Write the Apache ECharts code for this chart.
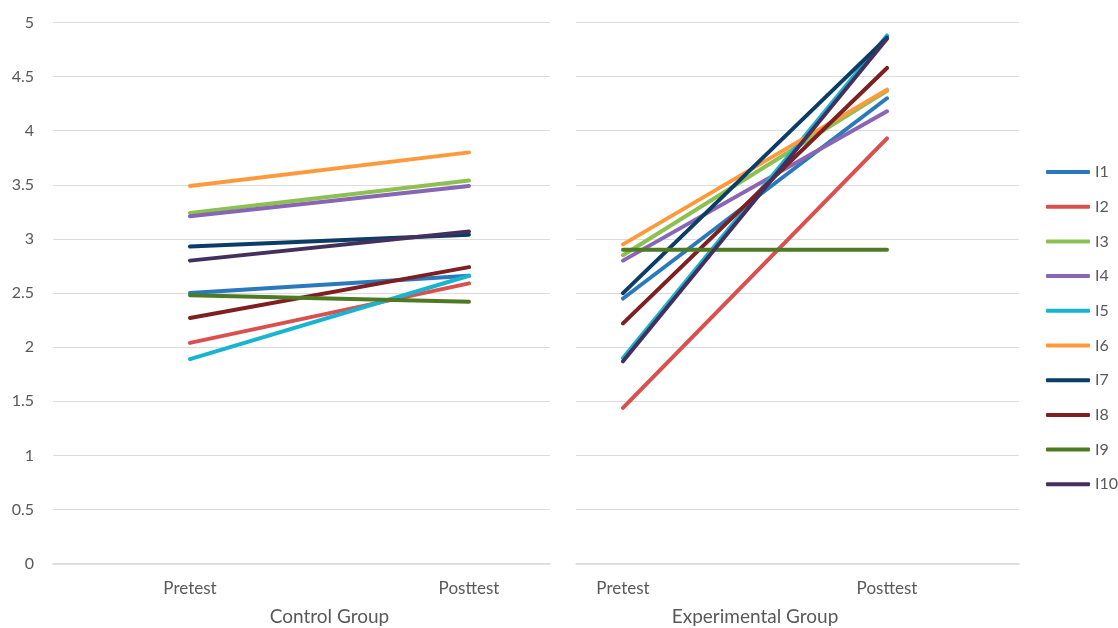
<!DOCTYPE html>
<html>
<head>
<meta charset="utf-8">
<script src="https://cdn.jsdelivr.net/npm/echarts@6/dist/echarts.min.js"></script>
<style>
html,body{margin:0;padding:0;background:#fff;}
#chart{width:1118px;height:628px;}
</style>
</head>
<body>
<div id="chart"></div>
<script>
const categories = ['Pretest', 'Posttest'];
const groups = ['Control Group', 'Experimental Group'];
const itemNames = ['I1','I2','I3','I4','I5','I6','I7','I8','I9','I10'];
const yTicks = [0, 0.5, 1, 1.5, 2, 2.5, 3, 3.5, 4, 4.5, 5];
// Control group [pretest, posttest]
const controlI1 = [2.50, 2.66];
const controlI2 = [2.04, 2.59];
const controlI3 = [3.24, 3.54];
const controlI4 = [3.21, 3.49];
const controlI5 = [1.89, 2.66];
const controlI6 = [3.49, 3.80];
const controlI7 = [2.93, 3.04];
const controlI8 = [2.27, 2.74];
const controlI9 = [2.48, 2.42];
const controlI10 = [2.80, 3.07];
// Experimental group [pretest, posttest]
const expI1 = [2.45, 4.30];
const expI2 = [1.44, 3.93];
const expI3 = [2.85, 4.37];
const expI4 = [2.80, 4.18];
const expI5 = [1.90, 4.88];
const expI6 = [2.95, 4.38];
const expI7 = [2.50, 4.86];
const expI8 = [2.22, 4.58];
const expI9 = [2.90, 2.90];
const expI10 = [1.87, 4.85];

const controlData = [controlI1, controlI2, controlI3, controlI4, controlI5, controlI6, controlI7, controlI8, controlI9, controlI10];
const expData = [expI1, expI2, expI3, expI4, expI5, expI6, expI7, expI8, expI9, expI10];
const colors = ['#2a79bd', '#d9504f', '#8cc152', '#8866b4', '#19b4cf', '#ff9a3c', '#0b3d66', '#7e1f22', '#4e7a24', '#43305e'];

const FONT = 'Lato';
const LABEL = '#595959';
const gTop = 22.5, gBottom = 64.3;

const chart = echarts.init(document.getElementById('chart'));

const grids = [
  {left: 53, right: 1118 - 550, top: gTop, bottom: gBottom, outerBoundsMode: 'none', containLabel: false},
  {left: 576, right: 1118 - 1019, top: gTop, bottom: gBottom, outerBoundsMode: 'none', containLabel: false},
  {left: 190, right: 1118 - 469, top: gTop, bottom: gBottom, outerBoundsMode: 'none', containLabel: false},
  {left: 623, right: 1118 - 887, top: gTop, bottom: gBottom, outerBoundsMode: 'none', containLabel: false}
];

const yBase = {type: 'value', min: 0, max: 5, interval: 0.5,
  axisLine: {show: false}, axisTick: {show: false}};

const yAxes = [
  Object.assign({}, yBase, {gridIndex: 0,
    axisLabel: {color: LABEL, fontFamily: FONT, fontSize: 16, margin: 19,
      formatter: v => yTicks.indexOf(v) >= 0 ? String(v) : ''},
    splitLine: {lineStyle: {color: '#dcdcdc', width: 1}}}),
  Object.assign({}, yBase, {gridIndex: 1, axisLabel: {show: false},
    splitLine: {lineStyle: {color: '#dcdcdc', width: 1}}}),
  Object.assign({}, yBase, {gridIndex: 2, axisLabel: {show: false}, splitLine: {show: false}}),
  Object.assign({}, yBase, {gridIndex: 3, axisLabel: {show: false}, splitLine: {show: false}})
];

const xAxes = [
  {type: 'category', gridIndex: 0, data: categories, axisLabel: {show: false}, axisTick: {show: false},
    axisLine: {lineStyle: {color: '#d9d9d9', width: 1.5}}},
  {type: 'category', gridIndex: 1, data: categories, axisLabel: {show: false}, axisTick: {show: false},
    axisLine: {lineStyle: {color: '#d9d9d9', width: 1.5}}},
  {type: 'category', gridIndex: 2, data: categories, boundaryGap: false, axisTick: {show: false},
    axisLine: {show: false},
    axisLabel: {color: LABEL, fontFamily: FONT, fontSize: 17, margin: 16},
    name: groups[0], nameLocation: 'middle', nameGap: 44,
    nameTextStyle: {color: LABEL, fontFamily: FONT, fontSize: 19}},
  {type: 'category', gridIndex: 3, data: categories, boundaryGap: false, axisTick: {show: false},
    axisLine: {show: false},
    axisLabel: {color: LABEL, fontFamily: FONT, fontSize: 17, margin: 16},
    name: groups[1], nameLocation: 'middle', nameGap: 44,
    nameTextStyle: {color: LABEL, fontFamily: FONT, fontSize: 19}}
];

const series = [];
controlData.forEach((d, i) => series.push({
  name: itemNames[i], type: 'line', xAxisIndex: 2, yAxisIndex: 2, data: d,
  symbol: 'none', color: colors[i], lineStyle: {width: 4, cap: 'round'}, silent: true
}));
expData.forEach((d, i) => series.push({
  name: itemNames[i], type: 'line', xAxisIndex: 3, yAxisIndex: 3, data: d,
  symbol: 'none', color: colors[i], lineStyle: {width: 4, cap: 'round'}, silent: true
}));

chart.setOption({
  animation: false,
  backgroundColor: '#ffffff',
  grid: grids,
  xAxis: xAxes,
  yAxis: yAxes,
  legend: {
    orient: 'vertical', left: 1046, top: 164, padding: 0,
    data: itemNames,
    icon: 'roundRect',
    itemWidth: 44, itemHeight: 4, itemGap: 18.7,
    textStyle: {color: LABEL, fontFamily: FONT, fontSize: 16}
  },
  series: series
});
</script>
</body>
</html>
